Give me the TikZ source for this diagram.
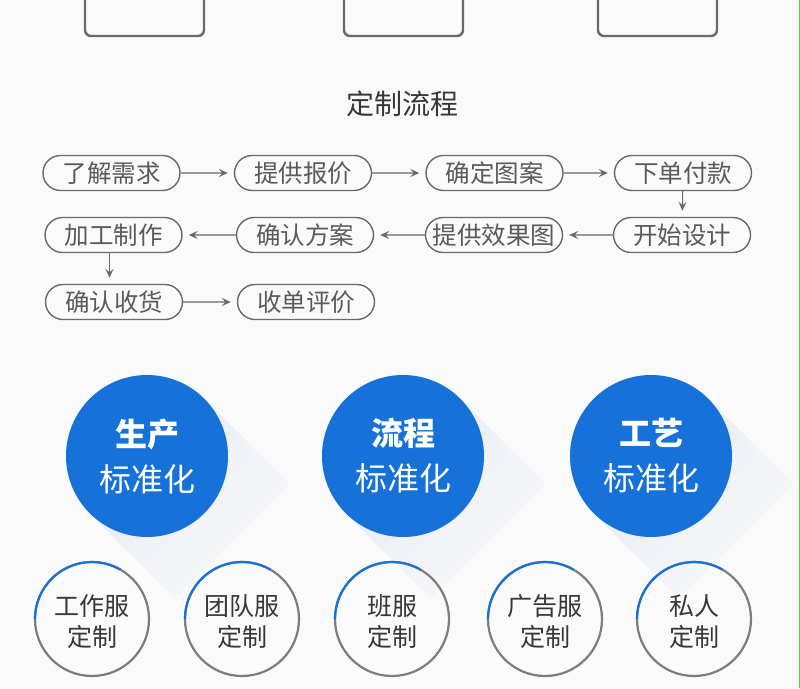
\documentclass[tikz,border=0pt]{standalone}
\usepackage{fontspec}
\newfontfamily\cjk{Noto Sans CJK SC}
\usetikzlibrary{arrows.meta, shapes.misc, fadings, calc}

\definecolor{boxgray}{RGB}{105,105,105}
\definecolor{txtgray}{RGB}{90,90,90}
\definecolor{titlegray}{RGB}{55,55,55}
\definecolor{dotblue}{RGB}{22,114,216}
\definecolor{ringgray}{RGB}{125,125,125}
\definecolor{bggray}{RGB}{250,250,250}
\definecolor{shadowblue}{RGB}{228,234,244}
\definecolor{edgegreen}{RGB}{100,200,60}
\tikzfading[name=longfade, left color=transparent!0, right color=transparent!100]

\begin{document}
\begin{tikzpicture}[x=1pt, y=1pt, >={Stealth[length=9pt,width=8pt,inset=3.5pt]},
    stepbox/.style={draw=boxgray, line width=1.4pt, rounded rectangle, minimum width=137pt,
        minimum height=35pt, inner sep=0pt, text=txtgray, font=\cjk\fontsize{24.5}{28}\selectfont},
    flow/.style={->, draw=boxgray, line width=1.1pt, shorten >=6pt},
    bigdot/.style={circle, fill=dotblue, minimum size=162pt, inner sep=0pt, outer sep=0pt,
        text=white, align=center, font=\cjk\fontsize{32}{45}\selectfont},
    smalldot/.style={circle, draw=ringgray, line width=2.2pt, minimum size=114pt, inner sep=0pt,
        outer sep=0pt},
    ringtext/.style={text=titlegray, align=center, font=\cjk\fontsize{25}{31}\selectfont},
    topbox/.style={draw=boxgray, line width=2.4pt, rounded corners=6pt}]
    % background and page edge
    \fill[bggray] (0,0) rectangle (800,-688);
    \useasboundingbox (0,0) rectangle (800,-688);
    \draw[edgegreen, line width=1pt] (799.5,0) -- (799.5,-688);

    % bottoms of the boxes cut off at the top
    \draw[topbox] (85,0) -- (85,-36) -- (204,-36) -- (204,0);
    \draw[topbox] (344,0) -- (344,-36) -- (463,-36) -- (463,0);
    \draw[topbox] (598,0) -- (598,-36) -- (717,-36) -- (717,0);

    \node (title) at (402,-104) [text=titlegray, font=\cjk\fontsize{28}{30}\selectfont] {定制流程};

    % process steps
    \node (xq) at (111.5,-173) [stepbox] {了解需求};
    \node (bj) at (303,-173) [stepbox] {提供报价};
    \node (ta) at (494.5,-173) [stepbox] {确定图案};
    \node (fk) at (683,-173) [stepbox] {下单付款};
    \node (sj) at (682,-235) [stepbox] {开始设计};
    \node (xg) at (494,-235) [stepbox] {提供效果图};
    \node (fa) at (305,-235) [stepbox] {确认方案};
    \node (zz) at (113.5,-235) [stepbox] {加工制作};
    \node (sh) at (114,-302) [stepbox] {确认收货};
    \node (pj) at (306,-302) [stepbox] {收单评价};

    \draw[flow] (xq) -- (bj);
    \draw[flow] (bj) -- (ta);
    \draw[flow] (ta) -- (fk);
    \draw[flow] (fk) -- (sj);
    \draw[flow] (sj) -- (xg);
    \draw[flow] (xg) -- (fa);
    \draw[flow] (fa) -- (zz);
    \draw[flow] ([xshift=-4]zz.south) -- ([xshift=-4]zz.south |- sh.north);
    \draw[flow] (sh) -- (pj);

    % three blue circles with long shadows
    \coordinate (p1) at (147,-456);
    \coordinate (p2) at (403,-456);
    \coordinate (p3) at (651,-456);
    \foreach \p in {p1,p2,p3}
        \fill[shadowblue, path fading=longfade, fading angle=-45]
            ($(\p)+(45:81)$) -- ($(\p)+(45:81)+(85,-85)$)
            -- ($(\p)+(225:81)+(85,-85)$) -- ($(\p)+(225:81)$) -- cycle;
    \node (sc) at (p1) [bigdot] {{\bfseries 生产}\\标准化};
    \node (lc) at (p2) [bigdot] {{\bfseries 流程}\\标准化};
    \node (gy) at (p3) [bigdot] {{\bfseries 工艺}\\标准化};

    % custom types
    \node (gz) at (92,-619) [smalldot] {};
    \node (td) at (242,-619) [smalldot] {};
    \node (bf) at (392,-619) [smalldot] {};
    \node (gg) at (545,-619) [smalldot] {};
    \node (sr) at (694,-619) [smalldot] {};
    \foreach \n in {gz,td,bf,gg,sr}
        \draw[dotblue, line width=2.2pt] (\n.60) arc[start angle=60, end angle=180, radius=57];
    \node (gzt) at ([yshift=-3]gz) [ringtext] {工作服\\定制};
    \node (tdt) at ([yshift=-3]td) [ringtext] {团队服\\定制};
    \node (bft) at ([yshift=-3]bf) [ringtext] {班服\\定制};
    \node (ggt) at ([yshift=-3]gg) [ringtext] {广告服\\定制};
    \node (srt) at ([yshift=-3]sr) [ringtext] {私人\\定制};
\end{tikzpicture}
\end{document}
